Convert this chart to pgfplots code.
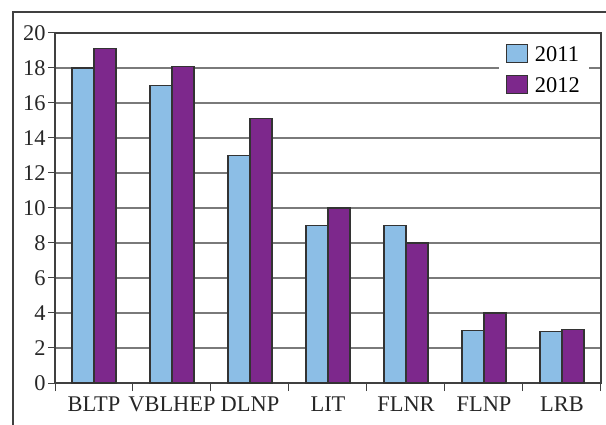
\documentclass[border=0pt]{standalone}
\usepackage{pgfplots}
\pgfplotsset{compat=1.18}
\usepackage{fontspec}
\setmainfont{Liberation Serif}
\definecolor{c2011}{HTML}{8CBEE6}
\definecolor{c2012}{HTML}{7D288C}
\definecolor{edge}{HTML}{333333}
\definecolor{gridc}{HTML}{7A7A7A}
\begin{document}
\begin{tikzpicture}
\useasboundingbox (0,0) rectangle (606bp,425bp);
\draw[line width=1.2bp, color=black!75] (13bp,0) -- (13bp,413bp) -- (606bp,413bp);
\begin{axis}[
  at={(55bp,42bp)}, anchor=south west,
  scale only axis, width=546bp, height=350bp,
  ybar=0pt, bar width=22bp,
  xmin=-0.5, xmax=6.5, ymin=0, ymax=20,
  xtick={0,...,6},
  xticklabels={BLTP,VBLHEP,DLNP,LIT,FLNR,FLNP,LRB},
  minor xtick={-0.5,0.5,...,6.5},
  major x tick style={draw=none},
  minor x tick style={line width=1bp, color=black!75},
  minor tick length=8bp,
  ytick={0,2,...,20},
  y tick style={line width=1bp, color=black!75},
  major tick length=7bp,
  tick align=outside, xtick pos=bottom, ytick pos=left,
  ymajorgrids, grid style={line width=1.1bp, color=gridc},
  axis line style={line width=1.1bp, color=black!75},
  tick label style={font=\fontsize{22.5}{24}\selectfont, color=black!85},
  xticklabel style={yshift=-3bp},
  yticklabel style={xshift=1bp},
  /pgf/number format/assume math mode=true,
  legend style={at={(0.978,0.98)}, anchor=north east, draw=none, fill=white,
    font=\fontsize{22.5}{24}\selectfont, row sep=10bp, column sep=5bp,
    inner xsep=7bp, inner ysep=4bp},
  legend cell align=left,
  legend image code/.code={\draw[#1, line width=1bp] (0bp,-8bp) rectangle (21bp,10bp);},
]
\addplot[fill=c2011, draw=edge, line width=1.2bp] coordinates {
  (0,18) (1,17) (2,13) (3,9) (4,9) (5,3) (6,2.93)};
\addplot[fill=c2012, draw=edge, line width=1.2bp] coordinates {
  (0,19.1) (1,18.1) (2,15.1) (3,10) (4,8) (5,4) (6,3.05)};
\legend{2011,2012}
\end{axis}
\end{tikzpicture}
\end{document}
